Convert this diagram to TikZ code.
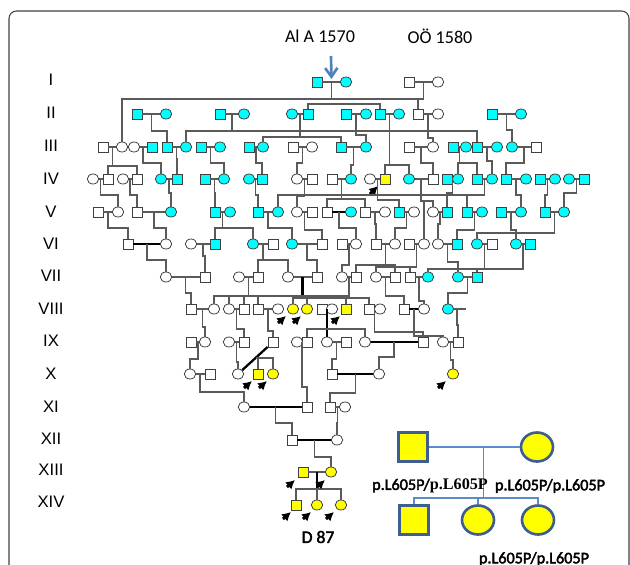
\documentclass[tikz,border=0pt]{standalone}
\usepackage{fontspec}
\setmainfont{Carlito}[AutoFakeBold=2.5]
\newfontfamily\numfont{Liberation Sans}
\newfontfamily\serifpart{Liberation Serif}
\usetikzlibrary{arrows.meta,calc,shapes.geometric}
\definecolor{pedcyan}{HTML}{00FFFF}
\definecolor{pedyellow}{HTML}{FFFF00}
\definecolor{pedline}{HTML}{5A5A5A}
\definecolor{legline}{HTML}{5B8BC8}
\definecolor{legborder}{HTML}{3D5E8E}
\definecolor{probandblue}{HTML}{4F81BD}
\tikzset{
frame/.style={draw=black!75, line width=0.6pt, rounded corners=0.15cm},
gen num/.style={font=\numfont\fontsize{9.5}{11}\selectfont, inner sep=0pt},
origin label/.style={font=\fontsize{10.3}{12}\selectfont, inner sep=0pt},
male/.style={draw=black!75, line width=0.45pt, fill=white, minimum size=0.2cm, inner sep=0pt},
female/.style={ellipse, draw=black!75, line width=0.45pt, fill=white, minimum width=0.23cm, minimum height=0.2cm, inner sep=0pt},
aff/.style={fill=pedcyan},
mut/.style={fill=pedyellow},
mate/.style={draw=pedline, line width=0.75pt},
kin/.style={draw=pedline, line width=0.75pt},
close kin/.style={draw=black, line width=1.3pt},
case arrow/.style={draw=black, line width=1.7pt, -{Latex[length=5pt,width=5.5pt]}},
proband arrow/.style={draw=probandblue, line width=1.5pt, -{Straight Barb[length=5pt,width=7pt]}},
legend male/.style={draw=legborder, line width=1.5pt, fill=pedyellow, minimum size=0.58cm, inner sep=0pt},
legend female/.style={ellipse, draw=legborder, line width=1.5pt, fill=pedyellow, minimum width=0.64cm, minimum height=0.58cm, inner sep=0pt},
legend link/.style={draw=legline, line width=0.6pt},
geno label/.style={font=\bfseries\fontsize{9.2}{11}\selectfont, inner sep=0pt}
}
\begin{document}
\begin{tikzpicture}[x=0.02cm,y=-0.02cm]
\useasboundingbox (0,0) rectangle (630,565);
\draw[frame] (9,11) rectangle (629,650);

% generation numbers
\node[gen num] (gi) at (51,80) {I};
\node[gen num] (gii) at (51,113) {II};
\node[gen num] (giii) at (51,146) {III};
\node[gen num] (giv) at (51,179) {IV};
\node[gen num] (gv) at (51,212) {V};
\node[gen num] (gvi) at (51,244) {VI};
\node[gen num] (gvii) at (51,276) {VII};
\node[gen num] (gviii) at (51,309) {VIII};
\node[gen num] (gix) at (51,341) {IX};
\node[gen num] (gx) at (51,374) {X};
\node[gen num] (gxi) at (51,407) {XI};
\node[gen num] (gxii) at (51,439) {XII};
\node[gen num] (gxiii) at (51,470) {XIII};
\node[gen num] (gxiv) at (51,502) {XIV};

% founders
\node[origin label] (ailab) at (320,36) {Al A 1570};
\node[origin label] (oolab) at (440,36) {OÖ 1580};

% generation I
\node[male,aff] (i317) at (317,82) {};
\node[female,aff] (i346) at (346,82) {};
\node[male] (i409) at (409,82) {};
\node[female] (i438) at (438,82) {};

% generation II
\node[male,aff] (ii137) at (137,114) {};  \node[female,aff] (ii166) at (166,114) {};
\node[male,aff] (ii220) at (220,114) {};  \node[female,aff] (ii244) at (244,114) {};
\node[female,aff] (ii292) at (292,114) {}; \node[male,aff] (ii308) at (308,114) {};
\node[male,aff] (ii346) at (346,114) {};  \node[female,aff] (ii366) at (366,114) {};
\node[male,aff] (ii380) at (380,114) {};  \node[female,aff] (ii399) at (399,114) {};
\node[male] (ii418) at (418,114) {};      \node[female] (ii438) at (438,114) {};
\node[male,aff] (ii492) at (492,114) {};  \node[female,aff] (ii521) at (521,114) {};

% generation III
\node[male] (iii103) at (103,147) {};     \node[female] (iii123) at (122,147) {};
\node[female] (iii133) at (134,147) {};   \node[male,aff] (iii152) at (152,147) {};
\node[male,aff] (iii167) at (167,147) {}; \node[female,aff] (iii186) at (186,147) {};
\node[male,aff] (iii201) at (201,147) {}; \node[female,aff] (iii220) at (220,147) {};
\node[male,aff] (iii249) at (249,147) {}; \node[female,aff] (iii263) at (263,147) {};
\node[male] (iii293) at (293,147) {};     \node[female] (iii312) at (312,147) {};
\node[male,aff] (iii341) at (341,147) {}; \node[female,aff] (iii366) at (366,147) {};
\node[male] (iii409) at (409,147) {};     \node[female] (iii433) at (433,147) {};
\node[male,aff] (iii453) at (453,147) {}; \node[female,aff] (iii467) at (466,147) {};
\node[male,aff] (iii477) at (477,147) {}; \node[female,aff] (iii497) at (497,147) {};
\node[female,aff] (iii512) at (512,147) {}; \node[male] (iii536) at (536,147) {};

% generation IV
\node[female] (iv93) at (93,179) {};      \node[male] (iv108) at (108,179) {};
\node[female] (iv123) at (123,179) {};    \node[male] (iv137) at (137,179) {};
\node[female,aff] (iv161) at (161,179) {}; \node[male,aff] (iv177) at (177,179) {};
\node[male,aff] (iv205) at (205,179) {};  \node[female,aff] (iv224) at (224,179) {};
\node[female,aff] (iv249) at (249,179) {}; \node[male,aff] (iv262) at (262,179) {};
\node[female] (iv297) at (297,179) {};    \node[male] (iv312) at (312,179) {};
\node[male] (iv332) at (332,179) {};      \node[female,aff] (iv351) at (351,179) {};
\node[female] (iv370) at (370,179) {};    \node[male,mut] (iv385) at (385,179) {};
\node[female,aff] (iv409) at (409,179) {}; \node[male] (iv433) at (433,179) {};
\node[male,aff] (iv447) at (447,179) {};  \node[female,aff] (iv458) at (458,179) {};
\node[male,aff] (iv477) at (477,179) {};  \node[female,aff] (iv492) at (492,179) {};
\node[male,aff] (iv506) at (506,179) {};  \node[female,aff] (iv526) at (526,179) {};
\node[male,aff] (iv540) at (540,179) {};  \node[female,aff] (iv555) at (555,179) {};
\node[female,aff] (iv569) at (569,179) {}; \node[male,aff] (iv584) at (584,179) {};

% generation V
\node[male] (v98) at (98,212) {};         \node[female] (v118) at (118,212) {};
\node[male] (v137) at (137,212) {};       \node[female,aff] (v171) at (171,212) {};
\node[male,aff] (v215) at (215,212) {};   \node[female,aff] (v230) at (230,212) {};
\node[male,aff] (v258) at (258,212) {};   \node[female,aff] (v278) at (278,212) {};
\node[female] (v297) at (297,212) {};     \node[male] (v312) at (312,212) {};
\node[male] (v327) at (327,212) {};       \node[female,aff] (v351) at (351,212) {};
\node[male] (v365) at (365,212) {};       \node[female] (v385) at (385,212) {};
\node[male,aff] (v399) at (399,212) {};   \node[female] (v414) at (414,212) {};
\node[female] (v433) at (433,212) {};     \node[male,aff] (v447) at (447,212) {};
\node[male,aff] (v467) at (467,212) {};   \node[female,aff] (v482) at (482,212) {};
\node[male,aff] (v501) at (501,212) {};   \node[female,aff] (v521) at (521,212) {};
\node[male,aff] (v545) at (545,212) {};   \node[female,aff] (v564) at (564,212) {};

% generation VI
\node[male] (vi128) at (128,244) {};      \node[female] (vi166) at (166,244) {};
\node[female] (vi191) at (191,244) {};    \node[male,aff] (vi215) at (215,244) {};
\node[female,aff] (vi253) at (253,244) {}; \node[male] (vi273) at (273,244) {};
\node[female,aff] (vi292) at (292,244) {}; \node[male] (vi322) at (322,244) {};
\node[male] (vi342) at (342,244) {};      \node[female] (vi356) at (356,244) {};
\node[male] (vi376) at (376,244) {};      \node[female] (vi395) at (395,244) {};
\node[male] (vi409) at (409,244) {};      \node[female] (vi424) at (424,244) {};
\node[female] (vi438) at (438,244) {};    \node[male,aff] (vi457) at (457,244) {};
\node[female,aff] (vi477) at (477,244) {}; \node[male] (vi492) at (492,244) {};
\node[female,aff] (vi516) at (516,244) {}; \node[male,aff] (vi530) at (530,244) {};

% generation VII
\node[female] (vii166) at (166,277) {};   \node[male] (vii205) at (205,277) {};
\node[female] (vii239) at (239,277) {};   \node[male] (vii258) at (258,277) {};
\node[female] (vii288) at (288,277) {};   \node[male] (vii317) at (317,277) {};
\node[female] (vii342) at (342,277) {};   \node[male] (vii356) at (356,277) {};
\node[female] (vii376) at (376,277) {};   \node[male] (vii395) at (395,277) {};
\node[male] (vii410) at (410,277) {};     \node[female,aff] (vii428) at (428,277) {};
\node[female,aff] (vii458) at (458,277) {}; \node[male,aff] (vii477) at (477,277) {};

% generation VIII
\node[male] (viii191) at (191,309) {};    \node[female] (viii214) at (214,309) {};
\node[female] (viii229) at (229,309) {};  \node[male] (viii244) at (244,309) {};
\node[male] (viii258) at (258,309) {};    \node[female] (viii278) at (278,309) {};
\node[female,mut] (viii293) at (293,309) {};
\node[female,mut] (viii307) at (307,309) {};
\node[male] (viii322) at (322,309) {};    \node[female] (viii332) at (332,309) {};
\node[male,mut] (viii346) at (346,309) {};
\node[male] (viii369) at (369,309) {};    \node[female] (viii380) at (380,309) {};
\node[male] (viii404) at (404,309) {};    \node[female] (viii424) at (424,309) {};
\node[female,aff] (viii448) at (448,309) {};
\coordinate (viii466) at (466,309);

% generation IX
\node[male] (ix191) at (191,342) {};      \node[female] (ix205) at (205,342) {};
\node[female] (ix229) at (229,342) {};    \node[male] (ix244) at (244,342) {};
\node[male] (ix273) at (273,342) {};
\node[female] (ix297) at (297,342) {};    \node[male] (ix307) at (307,342) {};
\node[female] (ix327) at (327,342) {};    \node[male] (ix346) at (346,342) {};
\node[female] (ix365) at (365,342) {};    \node[male] (ix423) at (423,342) {};
\node[female] (ix443) at (443,342) {};    \node[male] (ix458) at (458,342) {};

% generation X
\node[female] (x190) at (190,374) {};     \node[male] (x210) at (210,374) {};
\node[female] (x238) at (238,374) {};
\node[male,mut] (x258) at (258,374) {};   \node[female,mut] (x273) at (273,374) {};
\node[male] (x332) at (332,374) {};       \node[female] (x379) at (379,374) {};
\node[female,mut] (x453) at (453,374) {};

% generations XI to XIV
\node[female] (xi244) at (244,407) {};    \node[male] (xi307) at (307,407) {};
\node[male] (xi330) at (330,407) {};      \node[female] (xi345) at (345,407) {};
\node[male] (xii292) at (292,440) {};     \node[female] (xii337) at (337,440) {};
\node[male,mut] (xiii303) at (303,472) {}; \node[female,mut] (xiii331) at (331,472) {};
\node[male,mut] (xiv296) at (296,505) {};
\node[female,mut] (xiv317) at (317,505) {};
\node[female,mut] (xiv341) at (341,505) {};
\node[font=\bfseries\fontsize{10}{12}\selectfont] (d87) at (318,537) {D 87};

% matings
\draw[mate] (i317) -- (i346);
\draw[mate] (i409) -- (i438);
\draw[mate] (ii137) -- (ii166);
\draw[mate] (ii220) -- (ii244);
\draw[mate] (ii292) -- (ii308);
\draw[mate] (ii346) -- (ii366);
\draw[mate] (ii380) -- (ii399);
\draw[mate] (ii418) -- (ii438);
\draw[mate] (ii492) -- (ii521);
\draw[mate] (iii103) -- (iii123);
\draw[mate] (iii133) -- (iii152);
\draw[mate] (iii167) -- (iii186);
\draw[mate] (iii201) -- (iii220);
\draw[mate] (iii249) -- (iii263);
\draw[mate] (iii293) -- (iii312);
\draw[mate] (iii341) -- (iii366);
\draw[mate] (iii409) -- (iii433);
\draw[mate] (iii453) -- (iii467);
\draw[mate] (iii477) -- (iii497);
\draw[mate] (iii512) -- (iii536);
\draw[mate] (iv93) -- (iv108);
\draw[mate] (iv123) -- (iv137);
\draw[mate] (iv161) -- (iv177);
\draw[mate] (iv205) -- (iv224);
\draw[mate] (iv249) -- (iv262);
\draw[mate] (iv297) -- (iv312);
\draw[mate] (iv332) -- (iv351);
\draw[mate] (iv370) -- (iv385);
\draw[mate] (iv409) -- (iv433);
\draw[mate] (iv447) -- (iv458);
\draw[mate] (iv477) -- (iv492);
\draw[mate] (iv506) -- (iv526);
\draw[mate] (iv540) -- (iv555);
\draw[mate] (iv569) -- (iv584);
\draw[mate] (v98) -- (v118);
\draw[mate] (v137) -- (v171);
\draw[mate] (v215) -- (v230);
\draw[mate] (v258) -- (v278);
\draw[mate] (v297) -- (v312);
\draw[close kin] (v327) -- (v351);
\draw[mate] (v365) -- (v385);
\draw[mate] (v399) -- (v414);
\draw[mate] (v433) -- (v447);
\draw[mate] (v467) -- (v482);
\draw[mate] (v501) -- (v521);
\draw[mate] (v545) -- (v564);
\draw[close kin] (vi128) -- (vi166);
\draw[mate] (vi191) -- (vi215);
\draw[mate] (vi253) -- (vi273);
\draw[mate] (vi292) -- (vi322);
\draw[mate] (vi342) -- (vi356);
\draw[mate] (vi376) -- (vi395);
\draw[mate] (vi409) -- (vi424);
\draw[mate] (vi438) -- (vi457);
\draw[mate] (vi477) -- (vi492);
\draw[mate] (vi516) -- (vi530);
\draw[mate] (vii166) -- (vii205);
\draw[mate] (vii239) -- (vii258);
\draw[mate] (vii288) -- (vii317);
\draw[mate] (vii342) -- (vii356);
\draw[mate] (vii376) -- (vii395);
\draw[mate] (vii410) -- (vii428);
\draw[mate] (vii458) -- (vii477);
\draw[mate] (viii191) -- (viii214);
\draw[mate] (viii229) -- (viii244);
\draw[mate] (viii258) -- (viii278);
\draw[mate] (viii322) -- (viii332);
\draw[mate] (viii369) -- (viii380);
\draw[close kin] (viii404) -- (viii424);
\draw[mate] (viii448) -- (viii466);
\draw[mate] (ix191) -- (ix205);
\draw[mate] (ix229) -- (ix244);
\draw[mate] (ix297) -- (ix307);
\draw[mate] (ix327) -- (ix346);
\draw[close kin] (ix365) -- (ix423);
\draw[mate] (ix443) -- (ix458);
\draw[close kin] (ix273) -- (x238);
\draw[mate] (x190) -- (x210);
\draw[close kin] (x332) -- (x379);
\draw[close kin] (xi244) -- (xi307);
\draw[mate] (xi330) -- (xi345);
\draw[close kin] (xii292) -- (xii337);
\draw[mate] (xiii303) -- (xiii331);

% descent I -> II
\coordinate (ai) at ($(i317)!.5!(i346)$);
\coordinate (oo) at ($(i409)!.5!(i438)$);
\draw[kin] (ai) -- ++(0,17) -| (iii123);
\draw[kin] (ai) ++(0,17) -- ($(oo)+(0,17)$);
\draw[kin] (ai) ++(0,22) -| (ii308) (ai) ++(0,22) -| (ii380);
\draw[kin] (oo) -- ++(0,17) -| (ii418);
\coordinate (aitop) at (331,56);
\draw[proband arrow] (aitop) -- ($(ai)+(0,-3)$);

% descent II -> III
\draw[kin] ($(ii137)!.5!(ii166)$) -- ++(0,17) -| (iii167);
\draw[kin] ($(ii220)!.5!(ii244)$) -- ++(0,17) -| (iii186) ($(ii220)!.5!(ii244)$) ++(0,17) -| (iii477);
\draw[kin] ($(ii292)!.5!(ii308)$) -- ++(0,23) -| (iii263) ($(ii292)!.5!(ii308)$) ++(0,23) -| (iii341);
\draw[kin] ($(ii346)!.5!(ii366)$) -- ++(0,21) -| (iii366);
\draw[kin] ($(ii380)!.5!(ii399)$) -- ++(0,51) -| (iv385) ($(ii380)!.5!(ii399)$) ++(0,51) -| (iv409);
\draw[kin] ($(ii418)!.5!(ii438)$) -- ++(0,24) -| (iii433);
\draw[kin] ($(ii492)!.5!(ii521)$) -- ++(0,16) -| (iii512);

% descent III -> IV
\draw[kin] ($(iii103)!.5!(iii123)$) -- ++(0,19) -| (iv108) ($(iii103)!.5!(iii123)$) ++(0,19) -| (iv137);
\draw[kin] ($(iii133)!.5!(iii152)$) -- ++(0,16) -| (iv161);
\draw[kin] ($(iii167)!.5!(iii186)$) -- ++(0,12) -| (iv177);
\draw[kin] ($(iii201)!.5!(iii220)$) -- ++(0,16) -| (iv224);
\draw[kin] ($(iii249)!.5!(iii263)$) -- ++(0,16) -| (iv262);
\draw[kin] ($(iii293)!.5!(iii312)$) -- ++(0,16) -| (iv297);
\draw[kin] ($(iii341)!.5!(iii366)$) -- ++(0,18) -| (iv351);
\draw[kin] ($(iii409)!.5!(iii433)$) -- ++(0,16) -| (iv433);
\draw[kin] ($(iii453)!.5!(iii467)$) -- ++(0,16) -| (iv458) ($(iii453)!.5!(iii467)$) ++(0,16) -| (iv477);
\draw[kin] ($(iii477)!.5!(iii497)$) -- ++(0,14) -| (iv492);
\draw[kin] ($(iii512)!.5!(iii536)$) -- ++(0,16) -| (iv506);
\draw[case arrow] ($(iv385)+(-15,15)$) -- ($(iv385)+(-7,7)$);

% descent IV -> V
\draw[kin] ($(iv93)!.5!(iv108)$) -- ++(0,16) -| (v118);
\draw[kin] ($(iv123)!.5!(iv137)$) -- ++(0,16) -| (v137);
\draw[kin] ($(iv161)!.5!(iv177)$) -- ++(0,14) -| (v171);
\draw[kin] ($(iv205)!.5!(iv224)$) -- ++(0,14) -| (v215);
\draw[kin] ($(iv249)!.5!(iv262)$) -- ++(0,16) -| (v258);
\draw[kin] ($(iv297)!.5!(iv312)$) -- ++(0,17) -| (v297);
\draw[kin] ($(iv332)!.5!(iv351)$) -- ++(0,20) -| (v327) ($(iv332)!.5!(iv351)$) ++(0,20) -| (v365);
\draw[kin] ($(iv370)!.5!(iv385)$) -- ++(0,21) -| (v399);
\draw[kin] ($(iv409)!.5!(iv433)$) -- ++(0,22) -| (v433) ($(iv409)!.5!(iv433)$) ++(0,22) -| (vi424);
\draw[kin] ($(iv447)!.5!(iv458)$) -- ++(0,14) -| (v447);
\draw[kin] ($(iv477)!.5!(iv492)$) -- ++(0,16) -| (v278) ($(iv477)!.5!(iv492)$) ++(0,16) -| (v467);
\draw[kin] ($(iv506)!.5!(iv526)$) -- ++(0,16) -| (v521);
\draw[kin] ($(iv540)!.5!(iv555)$) -- ++(0,16) -| (v545);
\draw[kin] ($(iv569)!.5!(iv584)$) -- ++(0,14) -| (v564);

% descent V -> VI
\draw[kin] ($(v98)!.5!(v118)$) -- ++(0,16) -| (vi128);
\draw[kin] ($(v137)!.5!(v171)$) -- ++(0,16) -| (vi166);
\draw[kin] ($(v215)!.5!(v230)$) -- ++(0,16) -| (vi215) ($(v215)!.5!(v230)$) ++(0,16) -| (vi253);
\draw[kin] ($(v258)!.5!(v278)$) -- ++(0,16) -| (vi292);
\draw[kin] ($(v297)!.5!(v312)$) -- ++(0,18) -| (vi322);
\draw[kin] ($(v327)!.5!(v351)$) -- ++(0,16) -| (vi356);
\draw[kin] ($(v365)!.5!(v385)$) -- ++(0,12) -| (vi376);
\draw[kin] ($(v399)!.5!(v414)$) -- ++(0,16) -| (vi395);
\draw[kin] ($(v433)!.5!(v447)$) -- ++(0,12) -| (vi438);
\draw[kin] ($(v467)!.5!(v482)$) -- ++(0,18) -| (vi457);
\draw[kin] ($(v501)!.5!(v521)$) -- ++(0,18) -| (vi516);
\draw[kin] ($(v545)!.5!(v564)$) -- ++(0,21) -| (vi477);

% descent VI -> VII
\draw[kin] ($(vi128)!.5!(vi166)$) -- ++(0,16) -| (vii166);
\draw[kin] ($(vi191)!.5!(vi215)$) -- ++(0,12) -| (vii205);
\draw[kin] ($(vi253)!.5!(vi273)$) -- ++(0,16) -| (vii258) ($(vi253)!.5!(vi273)$) ++(0,16) -| (vii288);
\draw[kin] ($(vi292)!.5!(vi322)$) -- ++(0,16) -| (vii317);
\draw[kin] ($(vi342)!.5!(vi356)$) -- ++(0,21) -| (vii342);
\draw[kin] ($(vi376)!.5!(vi395)$) -- ++(0,21) -| (vii356) ($(vi376)!.5!(vi395)$) ++(0,21) -| (vii395);
\draw[kin] ($(vi409)!.5!(vi424)$) -- ++(0,23) -| (vii376) ($(vi409)!.5!(vi424)$) ++(0,23) -| (vii410);
\draw[kin] ($(vi438)!.5!(vi457)$) -- ++(0,18) -| (vii458);
\draw[kin] ($(vi477)!.5!(vi492)$) -- ++(0,25) -| (vii428);
\draw[kin] ($(vi516)!.5!(vi530)$) -- ++(0,25) -| (vii477);

% descent VII -> VIII
\draw[kin] ($(vii166)!.5!(vii205)$) -- ++(0,16) -| (viii191);
\draw[kin] ($(vii239)!.5!(vii258)$) -- ++(0,19) -| (viii214) ($(vii239)!.5!(vii258)$) ++(0,19) -| (viii244)
  ($(vii239)!.5!(vii258)$) ++(0,19) -| (viii258);
\draw[close kin] ($(vii288)!.5!(vii317)$) -- ++(0,21);
\draw[kin] ($(vii288)!.5!(vii317)$) ++(0,21) -| (viii293) ($(vii288)!.5!(vii317)$) ++(0,21) -| (viii307)
  ($(vii288)!.5!(vii317)$) ++(0,21) -| (viii346) ($(vii288)!.5!(vii317)$) ++(0,21) -| (viii369);
\draw[kin] ($(vii342)!.5!(vii356)$) -- ++(0,19) -| (viii229);
\draw[kin] ($(vii376)!.5!(vii395)$) -- ++(0,19) -| (viii404);
\draw[kin] ($(vii410)!.5!(vii428)$) -- ++(0,24) -| (viii424);
\draw[kin] ($(vii458)!.5!(vii477)$) -- ++(0,16) -| (viii448);
\draw[case arrow] ($(viii293)+(-15,14)$) -- ($(viii293)+(-7,7)$);
\draw[case arrow] ($(viii307)+(-14,14)$) -- ($(viii307)+(-6,7)$);
\draw[case arrow] ($(viii346)+(-14,14)$) -- ($(viii346)+(-6,7)$);

% descent VIII -> IX
\draw[kin] ($(viii191)!.5!(viii214)$) -- ++(0,18) -| (ix205);
\draw[kin] ($(viii229)!.5!(viii244)$) -- ++(0,20) -| (ix244);
\draw[kin] ($(viii258)!.5!(viii278)$) -- ++(0,22) -| (ix273);
\draw[close kin] ($(viii322)!.5!(viii332)$) -- (ix327);
\draw[kin] ($(viii322)!.5!(viii332)$) ++(0,20) -| (ix307) ($(viii322)!.5!(viii332)$) ++(0,20) -| (ix365);
\draw[kin] ($(viii369)!.5!(viii380)$) -- ++(0,23) -| (ix423);
\draw[kin] ($(viii404)!.5!(viii424)$) -- ++(0,27) -| (ix443);
\draw[kin] ($(viii448)!.5!(viii466)$) -- ++(0,16) -| (ix458);

% descent IX -> X
\draw[kin] ($(ix191)!.5!(ix205)$) -- ++(0,17) -| (x190);
\draw[kin] ($(ix229)!.5!(ix244)$) -- ++(0,20) -| (x238);
\draw[kin] ($(ix273)!.5!(x238)$) -| (x258) ($(ix273)!.5!(x238)$) -| (x273);
\draw[kin] ($(ix297)!.5!(ix307)$) -- ++(0,45) -| (xi307);
\draw[kin] ($(ix327)!.5!(ix346)$) -- ++(0,17) -| (x332);
\draw[kin] ($(ix365)!.5!(ix423)$) -- ++(0,15) -| (x379);
\draw[kin] ($(ix443)!.5!(ix458)$) -- ++(0,18) -| (x453);
\draw[case arrow] ($(x258)+(-14,14)$) -- ($(x258)+(-6,7)$);
\draw[case arrow] ($(x273)+(-14,14)$) -- ($(x273)+(-6,7)$);
\draw[case arrow] ($(x453)+(-15,14)$) -- ($(x453)+(-7,7)$);

% descent X -> XIV
\draw[kin] ($(x190)!.5!(x210)$) -- ++(0,18) -| (xi244);
\draw[kin] ($(x332)!.5!(x379)$) -- ++(0,19) -| (xi330);
\draw[kin] ($(xi244)!.5!(xi307)$) -- ++(0,16) -| (xii292);
\draw[kin] ($(xi330)!.5!(xi345)$) -- ++(0,16) -| (xii337);
\draw[kin] ($(xii292)!.5!(xii337)$) -- ++(0,17) -| (xiii331);
\draw[close kin] ($(xiii303)!.5!(xiii331)$) -- ++(0,17);
\draw[kin] ($(xiii303)!.5!(xiii331)$) ++(0,17) -| (xiv296) ($(xiii303)!.5!(xiii331)$) ++(0,17) -| (xiv317)
  ($(xiii303)!.5!(xiii331)$) ++(0,17) -| (xiv341);
\draw[case arrow] ($(xiii303)+(-16,15)$) -- ($(xiii303)+(-8,8)$);
\draw[case arrow] ($(xiii331)+(-14,15)$) -- ($(xiii331)+(-6,8)$);
\draw[case arrow] ($(xiv296)+(-13,14)$) -- ($(xiv296)+(-5,7)$);
\draw[case arrow] ($(xiv317)+(-14,14)$) -- ($(xiv317)+(-6,7)$);
\draw[case arrow] ($(xiv341)+(-15,14)$) -- ($(xiv341)+(-7,7)$);

% genotype inset
\node[legend male] (lgfa) at (413,447) {};
\node[legend female] (lgmo) at (537,447) {};
\node[legend male] (lgc1) at (414,520) {};
\node[legend female] (lgc2) at (478,520) {};
\node[legend female] (lgc3) at (538,520) {};
\draw[legend link] (lgfa) -- (lgmo);
\draw[legend link] ($(lgfa)!.57!(lgmo)$) -- ++(0,51) -| (lgc1) ($(lgfa)!.57!(lgmo)$) ++(0,51) -| (lgc2)
  ($(lgfa)!.57!(lgmo)$) ++(0,51) -| (lgc3);
\node[geno label] (gtfa) at (430,486) {p.L605P/{\serifpart\bfseries p.L605P}};
\node[geno label] (gtmo) at (550,486) {p.L605P/p.L605P};
\node[geno label] (gtkid) at (534,559) {p.L605P/p.L605P};
\end{tikzpicture}
\end{document}
